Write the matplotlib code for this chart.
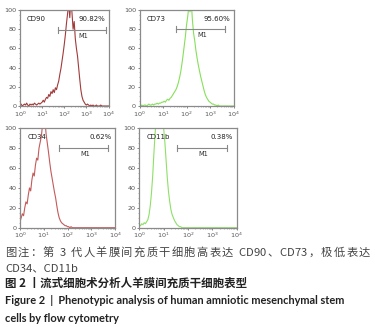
import numpy as np
import matplotlib
matplotlib.use("Agg")
import matplotlib.pyplot as plt

# ---------------- data ----------------
panel_names = ["CD90", "CD73", "CD34", "CD11b"]
panel_pcts = ["90.82%", "95.60%", "0.62%", "0.38%"]
panel_colors = ["#a23a3a", "#86e05a", "#c45a5a", "#8ee067"]
log_bins = np.linspace(0, 4, 81)  # log10 fluorescence, 0.05 steps

cd90_counts = [1, 2, 0, 1, 2, 1, 3, 1, 0, 2, 1, 2, 1, 3, 2, 1, 2, 3, 2, 3, 4,
               6, 4, 7, 9, 8, 12, 10, 15, 13, 17, 14, 19, 17, 22, 26, 33, 39, 47, 55, 64,
               74, 86, 96, 108, 92, 112, 97, 80, 88, 70, 60, 52, 40, 28, 17, 10, 6, 4, 2, 1,
               2, 1, 0, 1, 0, 1, 0, 0, 1, 0, 0, 0, 1, 0, 0, 0, 0, 0, 0, 0]
cd73_counts = [1, 0, 1, 0, 1, 1, 0, 1, 2, 1, 1, 2, 1, 2, 2, 3, 2, 3, 3, 4, 4,
               5, 4, 6, 7, 6, 8, 9, 11, 13, 15, 17, 20, 24, 29, 35, 43, 52, 62, 72, 84,
               93, 104, 98, 110, 90, 76, 68, 58, 50, 43, 37, 31, 26, 21, 16, 12, 9, 7, 5, 4,
               3, 2, 2, 1, 1, 0, 1, 0, 0, 0, 0, 0, 0, 0, 0, 0, 0, 0, 0, 0]
cd34_counts = [6, 10, 14, 12, 20, 26, 24, 33, 40, 37, 48, 55, 52, 63, 70, 68, 80, 86, 92, 104, 100,
               108, 94, 85, 76, 66, 57, 50, 43, 36, 30, 22, 15, 10, 7, 5, 4, 3, 2, 2, 1,
               1, 0, 1, 0, 0, 0, 0, 0, 0, 0, 0, 0, 0, 0, 0, 0, 0, 0, 0, 0,
               0, 0, 0, 0, 0, 0, 0, 0, 0, 0, 0, 0, 0, 0, 0, 0, 0, 0, 0, 0]
cd11b_counts = [3, 2, 4, 3, 5, 4, 6, 8, 13, 22, 35, 52, 75, 95, 112, 120, 125, 122, 118, 110, 100,
                86, 68, 50, 36, 26, 18, 13, 10, 7, 5, 3, 2, 1, 1, 0, 0, 0, 0, 0, 0,
                0, 0, 0, 0, 0, 0, 0, 0, 0, 0, 0, 0, 0, 0, 0, 0, 0, 0, 0, 0,
                0, 0, 0, 0, 0, 0, 0, 0, 0, 0, 0, 0, 0, 0, 0, 0, 0, 0, 0, 0]
all_counts = [cd90_counts, cd73_counts, cd34_counts, cd11b_counts]

# M1 gate (log start, log end, level)
m1_gates = [(1.71, 3.9, 79), (1.57, 3.63, 80), (1.66, 3.72, 80), (1.53, 3.59, 80)]

y_ticks = [0, 20, 40, 60, 80, 100]
x_tick_labels = [r"$10^{0}$", r"$10^{1}$", r"$10^{2}$", r"$10^{3}$", r"$10^{4}$"]

caption_lines = [
    "图注：第 3 代人羊膜间充质干细胞高表达 CD90、CD73，极低表达",
    "CD34、CD11b",
]
title_cn = "图 2 丨流式细胞术分析人羊膜间充质干细胞表型"
title_en = ["Figure 2  |  Phenotypic analysis of human amniotic mesenchymal stem",
            "cells by flow cytometry"]

# ---------------- figure ----------------
W, H = 375, 327
fig = plt.figure(figsize=(W / 100, H / 100), dpi=100)

# axes boxes in pixels: (left, top, right, bottom)
boxes = [(20, 10, 108.5, 106), (139.5, 10, 233.5, 106),
         (20, 128.3, 115, 227.7), (139.3, 128.3, 236.7, 227.7)]

minor_x = [d + np.log10(k) for d in range(4) for k in range(2, 10)]

for i, (l, t, r, b) in enumerate(boxes):
    ax = fig.add_axes([l / W, 1 - b / H, (r - l) / W, (b - t) / H])
    ax.plot(log_bins, all_counts[i], color=panel_colors[i], lw=0.8)
    ax.set_xlim(0, 4)
    ax.set_ylim(0, 100)
    ax.set_yticks(y_ticks)
    ax.set_yticklabels([str(v) for v in y_ticks], fontsize=4.6, color="#222")
    ax.set_yticks(np.arange(0, 101, 5), minor=True)
    ax.set_xticks([0, 1, 2, 3, 4])
    ax.set_xticklabels(x_tick_labels, fontsize=4.6, color="#222")
    ax.set_xticks(minor_x, minor=True)
    ax.tick_params(which="major", length=1.5, width=0.5, pad=1.0, colors="#555")
    ax.tick_params(which="minor", length=0.8, width=0.4, colors="#777")
    for s in ax.spines.values():
        s.set_color("#8a8a8a")
        s.set_linewidth(0.9)
    # M1 gate
    g0, g1, lvl = m1_gates[i]
    ax.plot([g0, g1], [lvl, lvl], color="#888", lw=0.8)
    ax.plot([g0, g0], [lvl - 3, lvl + 3], color="#888", lw=0.8)
    ax.plot([g1, g1], [lvl - 3, lvl + 3], color="#888", lw=0.8)
    ax.text((g0 + g1) / 2 + 0.05, lvl - 3, "M1", fontsize=4.8, color="#333",
            ha="center", va="top")
    ax.text(0.3, 91, panel_names[i], fontsize=5, color="#222", ha="left", va="center")
    ax.text(3.85, 91, panel_pcts[i], fontsize=5, color="#222", ha="right", va="center")

cjk = ["Noto Sans CJK SC", "DejaVu Sans"]

# justified first caption line (from x=5 to x=370 px), shared baseline
renderer = fig.canvas.get_renderer()
line = caption_lines[0]
x0, x1, ybase = 5, 370, 256
chars = list(line)
tmp = [fig.text(0, 0, c, family=cjk, fontsize=8.1) for c in chars]
widths = []
for tt, c in zip(tmp, chars):
    if c == " ":
        widths.append(2.5)
    else:
        widths.append(tt.get_window_extent(renderer).width)
    tt.remove()
natural = sum(widths)
gap_ok = []
for k in range(len(chars) - 1):
    a, b = chars[k], chars[k + 1]
    gap_ok.append(not (a.isascii() and b.isascii() and a != " " and b != " "))
extra = (x1 - x0 - natural) / max(1, sum(gap_ok))
x = x0
for k, c in enumerate(chars):
    if c != " ":
        fig.text(x / W, 1 - ybase / H, c, family=cjk, fontsize=8.1,
                 color="#444", va="baseline", ha="left")
    x += widths[k]
    if k < len(gap_ok) and gap_ok[k]:
        x += extra

fig.text(5 / W, 1 - 268 / H, caption_lines[1], family=cjk, fontsize=8.1,
         color="#444", va="center", ha="left")
fig.text(5 / W, 1 - 283.5 / H, title_cn, family=cjk, fontsize=8.3,
         color="#222", va="center", ha="left", fontweight="bold")
fig.text(5 / W, 1 - 301 / H, title_en[0], family=["Lato", "DejaVu Sans"], fontsize=7.9,
         color="#222", va="center", ha="left", fontweight="bold")
fig.text(5 / W, 1 - 318 / H, title_en[1], family=["Lato", "DejaVu Sans"], fontsize=7.9,
         color="#222", va="center", ha="left", fontweight="bold")

fig.savefig("out.png", dpi=100)
